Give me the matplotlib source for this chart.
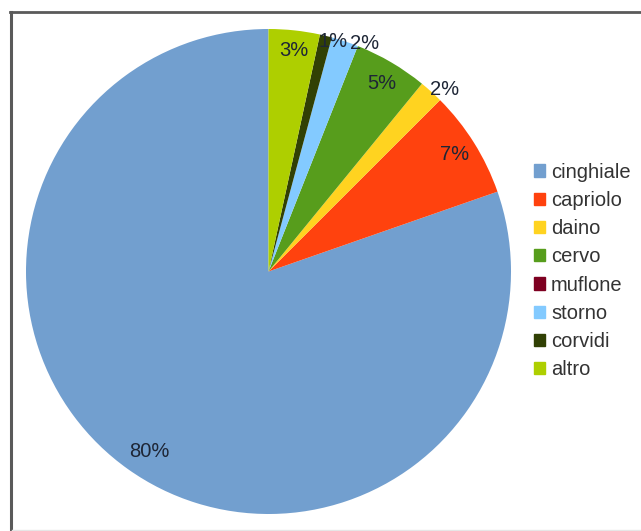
import numpy as np
import matplotlib
matplotlib.use("Agg")
import matplotlib.pyplot as plt
from matplotlib.lines import Line2D

plt.rcParams['font.family'] = ['Liberation Sans', 'DejaVu Sans']

# species share of damage (%)
labels = ['cinghiale', 'capriolo', 'daino', 'cervo', 'muflone', 'storno', 'corvidi', 'altro']
values = [80.3, 7.15, 1.6, 4.9, 0.0, 1.8, 0.8, 3.4]
colors = ['#729fcf', '#ff420e', '#ffd320', '#579d1c', '#7e0021', '#83caff', '#314004', '#aecf00']

W, H = 641, 531
fig = plt.figure(figsize=(W / 100, H / 100), dpi=100)

# pie centre and radius in pixels
cx, cy, r = 268.5, 271.5, 242.5
ax = fig.add_axes([(cx - r) / W, (H - cy - r) / H, 2 * r / W, 2 * r / H])


def pct(p):
    return '%d%%' % round(p) if p >= 0.5 else ''


wedges, texts, autotexts = ax.pie(values, colors=colors, startangle=90, counterclock=True,
                                  autopct=pct, pctdistance=0.9, radius=1,
                                  wedgeprops=dict(linewidth=0),
                                  textprops=dict(fontsize=14.5, color='#1e2636'))
ax.set_xlim(-1, 1)
ax.set_ylim(-1, 1)
ax.set_aspect('auto')

# label distance from centre and angular nudge (deg) per slice
place = {0: (0.89, 2.0), 1: (0.905, 0.0), 2: (1.045, -2.0), 3: (0.903, -0.6),
         5: (1.02, -4.5), 6: (0.985, -2.0), 7: (0.917, -0.4)}
for i, (d, off) in place.items():
    w = wedges[i]
    a = np.radians((w.theta1 + w.theta2) / 2 + off)
    autotexts[i].set_position((d * np.cos(a), d * np.sin(a)))

handles = [plt.Rectangle((0, 0), 1, 1, color=c) for c in colors]
fig.legend(handles, labels, loc='center left', bbox_to_anchor=(528 / W, 1 - 271 / H),
           frameon=False, fontsize=14.5, handlelength=0.55, handleheight=0.55,
           handletextpad=0.3, labelspacing=0.46, borderaxespad=0, borderpad=0.3,
           labelcolor='#333333')

# frame around the chart area
fig.add_artist(Line2D([9.5 / W, 1], [1 - 12 / H, 1 - 12 / H], color='#5a5a5a', lw=2))
fig.add_artist(Line2D([10.5 / W, 10.5 / W], [0, 1 - 12 / H], color='#5a5a5a', lw=2.2))
fig.add_artist(Line2D([12 / W, 1], [1.5 / H, 1.5 / H], color='#e6e6e6', lw=1))

fig.savefig('out.png', dpi=100)
